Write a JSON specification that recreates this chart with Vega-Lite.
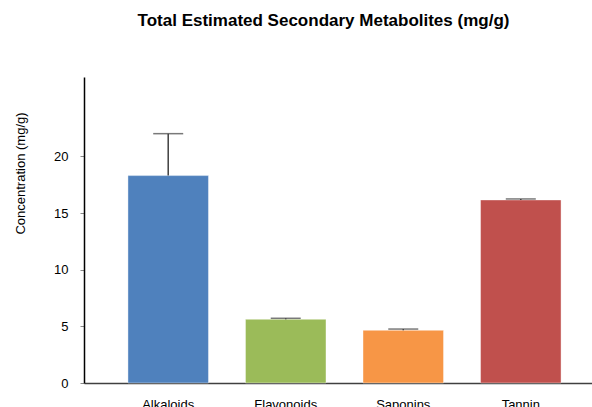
{
  "$schema": "https://vega.github.io/schema/vega-lite/v6.json",
  "width": 521,
  "height": 306,
  "autosize": "none",
  "padding": {"left": 84, "top": 77, "right": 0, "bottom": 24},
  "background": "white",
  "config": {
    "font": "Liberation Sans",
    "view": {"stroke": null}
  },
  "title": {
    "text": "Total Estimated Secondary Metabolites (mg/g)",
    "fontSize": 17,
    "fontWeight": "bold",
    "color": "#000000",
    "anchor": "middle",
    "dx": -21,
    "offset": 47
  },
  "data": {
    "values": [
      {"compound": "Alkaloids", "value": 18.3, "upper": 22.0},
      {"compound": "Flavonoids", "value": 5.62, "upper": 5.71},
      {"compound": "Saponins", "value": 4.65, "upper": 4.76},
      {"compound": "Tannin", "value": 16.15, "upper": 16.24}
    ]
  },
  "encoding": {
    "x": {
      "field": "compound",
      "type": "nominal",
      "sort": null,
      "scale": {"paddingInner": 0.315, "paddingOuter": 0.374},
      "axis": {
        "title": null,
        "labelAngle": 0,
        "ticks": false,
        "labelFontSize": 13,
        "labelColor": "#000000",
        "labelPadding": 15,
        "domainColor": "#404040",
        "domainWidth": 1.5
      }
    }
  },
  "layer": [
    {
      "mark": {"type": "bar", "stroke": "#ffffff", "strokeOpacity": 0.4, "strokeWidth": 1},
      "encoding": {
        "y": {
          "field": "value",
          "type": "quantitative",
          "scale": {"domain": [0, 27], "nice": false},
          "axis": {
            "values": [0, 5, 10, 15, 20],
            "grid": false,
            "title": "Concentration (mg/g)",
            "titleFontSize": 13,
            "titleFontWeight": "normal",
            "titleColor": "#000000",
            "titleX": -64,
            "titleY": 96,
            "titleAngle": -90,
            "titleBaseline": "middle",
            "titleAlign": "center",
            "labelFontSize": 13,
            "labelColor": "#000000",
            "labelPadding": 12,
            "tickSize": 4,
            "tickColor": "#888888",
            "domainColor": "#000000",
            "domainWidth": 1.5
          }
        },
        "color": {
          "field": "compound",
          "type": "nominal",
          "scale": {
            "domain": ["Alkaloids", "Flavonoids", "Saponins", "Tannin"],
            "range": ["#4F81BD", "#9BBB59", "#F79646", "#C0504D"]
          },
          "legend": null
        }
      }
    },
    {
      "mark": {"type": "rule", "color": "#404040", "strokeWidth": 1.5},
      "encoding": {
        "y": {"field": "value", "type": "quantitative"},
        "y2": {"field": "upper"}
      }
    },
    {
      "mark": {"type": "tick", "color": "#404040", "thickness": 1.5, "size": 30},
      "encoding": {
        "y": {"field": "upper", "type": "quantitative"}
      }
    }
  ]
}
